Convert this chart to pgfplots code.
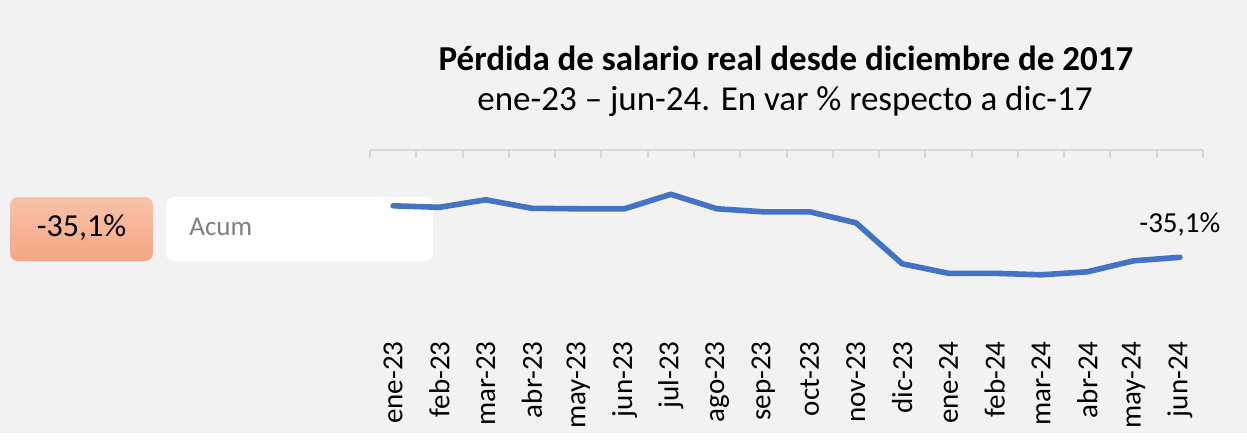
\documentclass[border=0pt]{standalone}
\usepackage{fontspec}
\setmainfont{Carlito}
\usepackage{pgfplots}
\pgfplotsset{compat=1.18}
\definecolor{bgcol}{HTML}{F2F2F2}
\definecolor{linecol}{HTML}{4472C4}
\definecolor{ticgray}{HTML}{D9D9D9}
\definecolor{boxtop}{HTML}{F8C2A9}
\definecolor{boxbot}{HTML}{F4A683}
\definecolor{acum}{HTML}{808080}
\newcommand{\titlefont}{\fontsize{17.5}{21}\selectfont}
\newcommand{\labfont}{\fontsize{14.5}{17}\selectfont}

\begin{document}
\begin{tikzpicture}
% background and side boxes (sizes in pt, 0.5pt per reference pixel)
\fill[bgcol] (0,0) rectangle (623.5pt,-216.5pt);
\shade[top color=boxtop, bottom color=boxbot, rounded corners=4pt]
    (5pt,-98.5pt) rectangle (76.5pt,-130.5pt);
\node[font=\fontsize{16}{19}\selectfont] at (40.75pt,-114pt) {-35,1\%};
\fill[white, rounded corners=4pt] (83pt,-98.5pt) rectangle (216.5pt,-130.5pt);
\node[font=\fontsize{13.5}{16}\selectfont, text=acum, anchor=base west, inner sep=0pt] at (94.5pt,-117.5pt) {Acum};

\node[font=\titlefont\bfseries] at (393pt,-29pt) {Pérdida de salario real desde diciembre de 2017};
\node[font=\titlefont] at (392.5pt,-50.5pt) {ene-23 – jun-24. En var \% respecto a dic-17};

\begin{axis}[
    at={(185pt,-75pt)}, anchor=north west,
    scale only axis,
    width=416.5pt, height=90pt,
    xmin=-0.5, xmax=17.5,
    ymin=-49.64, ymax=-13.64,
    axis line style={draw=none},
    ytick=\empty,
    xtick={0,...,17},
    xticklabels={ene-23,feb-23,mar-23,abr-23,may-23,jun-23,jul-23,ago-23,sep-23,oct-23,nov-23,dic-23,ene-24,feb-24,mar-24,abr-24,may-24,jun-24},
    major tick length=0pt,
    minor xtick={-0.5,0.5,...,17.5},
    minor tick length=4pt,
    minor x tick style={draw=ticgray, line width=1pt},
    xtick pos=upper,
    xticklabel pos=lower,
    xticklabel style={rotate=90, anchor=east, inner xsep=5.5pt, inner ysep=0pt, font=\labfont},
    clip=false,
    after end axis/.code={
        \draw[ticgray, line width=1pt] (rel axis cs:0,1) -- (rel axis cs:1,1);
    },
]
\addplot[color=linecol, line width=2.8pt, line join=round, line cap=round] coordinates {
    (0,-24.8) (1,-25.1) (2,-23.6) (3,-25.3) (4,-25.4) (5,-25.4)
    (6,-22.5) (7,-25.4) (8,-26.0) (9,-26.0) (10,-28.2) (11,-36.4)
    (12,-38.3) (13,-38.3) (14,-38.6) (15,-38.0) (16,-35.8) (17,-35.1)
};
\node[font=\labfont, anchor=base, inner sep=0pt] at (axis cs:17,-35.1) [yshift=12.5pt] {-35,1\%};
\end{axis}
\end{tikzpicture}
\end{document}
